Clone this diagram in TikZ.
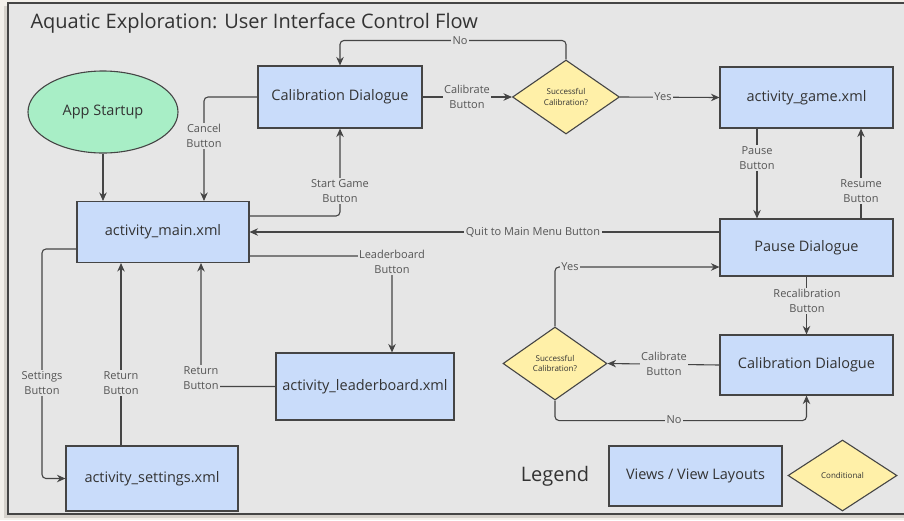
\documentclass[tikz,border=0pt]{standalone}
\usepackage{fontspec}
\setmainfont{Open Sans}
\usetikzlibrary{shapes.geometric,arrows.meta}
\definecolor{bg}{HTML}{E6E6E6}
\definecolor{outer}{HTML}{F3F0EB}
\definecolor{shadowc}{HTML}{D6D2CC}
\definecolor{viewblue}{HTML}{C9DCFA}
\definecolor{startgreen}{HTML}{A8EEC6}
\definecolor{condyellow}{HTML}{FFF0A8}
\definecolor{edgec}{HTML}{454545}
\definecolor{lblc}{HTML}{555555}
\definecolor{txtc}{HTML}{333333}
\tikzset{
  view/.style={draw=edgec, line width=1.1pt, fill=viewblue, text=txtc,
    font=\fontsize{14.5}{17}\selectfont, inner sep=0pt},
  cond/.style={diamond, draw=edgec, line width=1.1pt, fill=condyellow, text=txtc,
    font=\fontsize{8}{10.5}\selectfont, align=center, inner sep=0pt},
  conn/.style={draw=edgec, line width=1.1pt, rounded corners=4pt,
    -{Stealth[length=8.5pt,width=7.5pt]}},
  lab/.style={fill=bg, text=lblc, font=\fontsize{11}{15}\selectfont,
    align=center, inner sep=1.5pt},
}
\begin{document}
\begin{tikzpicture}[x=1pt,y=-1pt]
\useasboundingbox (0,0) rectangle (904,520);
\fill[outer] (0,0) rectangle (904,520);
\fill[shadowc] (4,6) rectangle (910,518);
\draw[fill=bg, draw=edgec, line width=1.3pt] (8,3) rectangle (912,514);

\node[anchor=base west, text=txtc, font=\fontsize{20}{24}\selectfont] (title) at (27,28) {Aquatic Exploration: User Interface Control Flow};

\node[ellipse, draw=edgec, line width=1.1pt, fill=startgreen, text=txtc,
  font=\fontsize{14.5}{17}\selectfont, minimum width=150pt, minimum height=82pt, inner sep=0pt] (start) at (103,112) {App Startup};
\node[view, minimum width=164pt, minimum height=62pt] (cal1) at (340,97) {Calibration Dialogue};
\node[cond, minimum width=107pt, minimum height=74pt] (dia1) at (566,97) {Successful\\Calibration?};
\node[view, minimum width=173pt, minimum height=61pt] (game) at (806.5,97.5) {activity\_game.xml};
\node[view, minimum width=172pt, minimum height=61pt] (main) at (163,232) {activity\_main.xml};
\node[view, minimum width=178pt, minimum height=67pt] (lead) at (365,386.5) {activity\_leaderboard.xml};
\node[view, minimum width=172pt, minimum height=65pt] (set) at (152,478.5) {activity\_settings.xml};
\node[view, minimum width=173pt, minimum height=57pt] (pause) at (806.5,247.5) {Pause Dialogue};
\node[view, minimum width=173pt, minimum height=60pt] (cal2) at (806.5,365) {Calibration Dialogue};
\node[cond, minimum width=104pt, minimum height=73pt] (dia2) at (555,363.5) {Successful\\Calibration?};

\node[text=txtc, font=\fontsize{20}{22}\selectfont] (legend) at (555,476) {Legend};
\node[view, minimum width=173pt, minimum height=60pt] (legview) at (695.5,476) {Views / View Layouts};
\node[cond, minimum width=109pt, minimum height=71pt] (legcond) at (842.5,475.5) {Conditional};

\coordinate (sx) at (42,0);

% connectors
\draw[conn] (dia1.north) -- ++(0,-19) -| (cal1.north);
\draw[conn] (cal1.east) -- (dia1.west);
\draw[conn] (dia1.east) -- (game.west);
\draw[conn] (cal1.west) -| ([xshift=41pt]main.north);
\draw[conn] (start.south) -- (start.south |- main.north);
\draw[conn] ([yshift=16pt]main.east) -| (cal1.south);
\draw[conn] (pause.west |- main.east) -- (main.east);
\draw[conn] ([yshift=-24pt]main.east) -| ([xshift=27pt]lead.north);
\draw[conn] (lead.west) -| ([xshift=38pt]main.south);
\draw[conn] ([yshift=-17pt]main.west) -| (sx |- set.west) -- (set.west);
\draw[conn] ([xshift=-31pt]set.north) -- ([xshift=-31pt]set.north |- main.south);
\draw[conn] ([xshift=-49.5pt]game.south) -- ([xshift=-49.5pt]game.south |- pause.north);
\draw[conn] ([xshift=54.5pt]pause.north) -- ([xshift=54.5pt]pause.north |- game.south);
\draw[conn] (dia2.north) |- ([yshift=-19.5pt]pause.west);
\draw[conn] (pause.south) -- (cal2.north);
\draw[conn] (cal2.west) -- (dia2.east);
\draw[conn] (dia2.south) -- ++(0,20) -| (cal2.south);

% labels
\node[lab] (lno1) at (460,41) {No};
\node[lab] (lcal1) at (467,97) {Calibrate\\Button};
\node[lab] (lyes1) at (663,97) {Yes};
\node[lab] (lcancel) at (204,136) {Cancel\\Button};
\node[lab] (lstart) at (340,191) {Start Game\\Button};
\node[lab] (lquit) at (533,232) {Quit to Main Menu Button};
\node[lab] (llead) at (392,262) {Leaderboard\\Button};
\node[lab] (lret1) at (201,378) {Return\\Button};
\node[lab] (lset) at (42,383) {Settings\\Button};
\node[lab] (lret2) at (121,383) {Return\\Button};
\node[lab] (lpause) at (757,158) {Pause\\Button};
\node[lab] (lresume) at (861,191) {Resume\\Button};
\node[lab] (lyes2) at (570,267) {Yes};
\node[lab] (lrecal) at (807,301) {Recalibration\\Button};
\node[lab] (lcal2) at (664,364) {Calibrate\\Button};
\node[lab] (lno2) at (674,420) {No};
\end{tikzpicture}
\end{document}
